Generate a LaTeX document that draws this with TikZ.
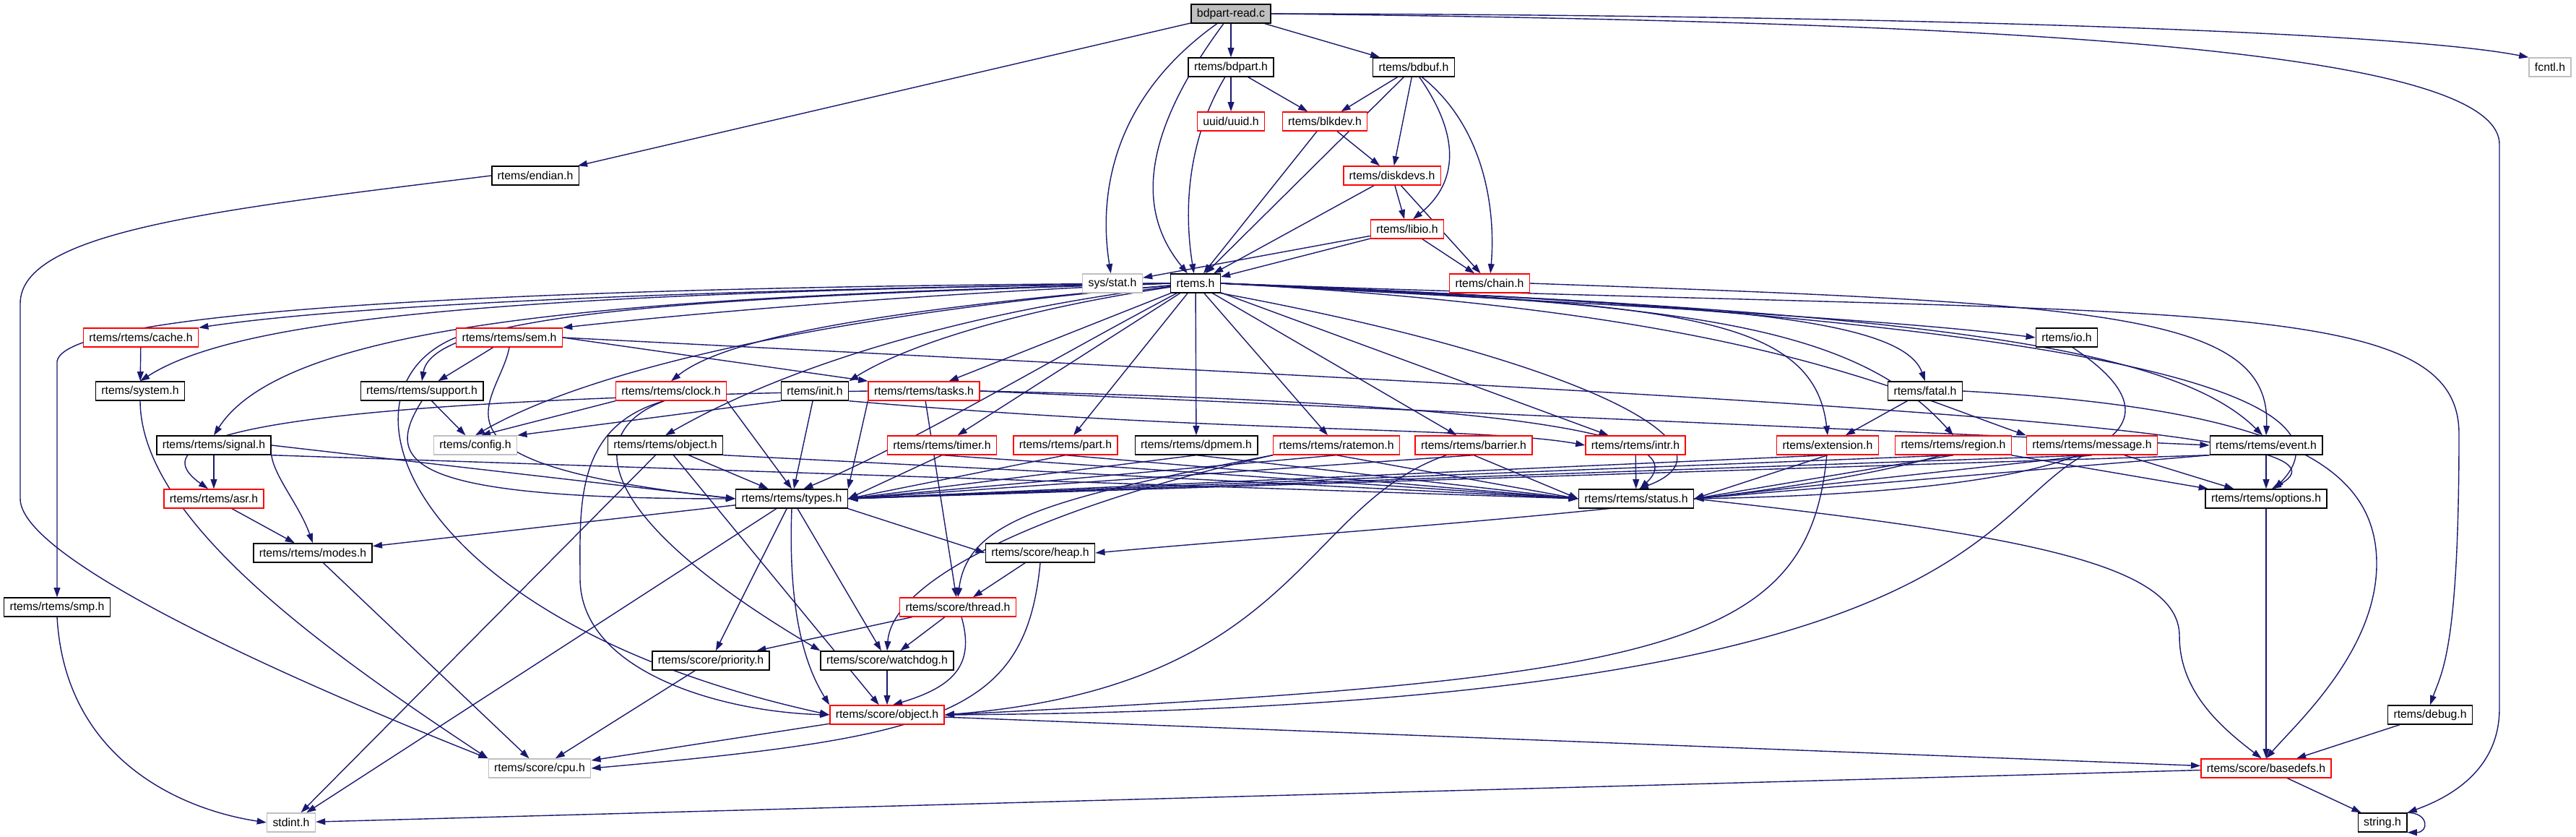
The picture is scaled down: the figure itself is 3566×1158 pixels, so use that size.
\documentclass[tikz,border=0pt]{standalone}
\usepackage{fontspec}
\setmainfont{Liberation Sans}
\usetikzlibrary{arrows.meta}
\definecolor{edgeblue}{HTML}{191970}
\definecolor{sysgray}{HTML}{BFBFBF}
\pgfdeclarelayer{background}
\pgfsetlayers{background,main}
\begin{document}
\begin{tikzpicture}
  [x=0.02cm,y=-0.02cm,every node/.style={rectangle,draw=black,line width=0.8pt,fill=white,
   font=\fontsize{9pt}{11pt}\selectfont,inner xsep=4.5pt,inner ysep=0pt,minimum height=0.52cm}]
  \tikzstyle{trunc} = [draw=red]
  \tikzstyle{sysfile} = [draw=sysgray]
  \tikzstyle{srcfile} = [fill=sysgray]
  \tikzstyle{dep} = [draw=edgeblue,line width=0.8pt,-{Triangle[length=7.5pt,width=5pt]}]
  \useasboundingbox (0,0) rectangle (3566,1158);

  % top levels
  \node[srcfile] (read) at (1704,19) {bdpart-read.c};
  \node (bdpart) at (1704,93) {rtems/bdpart.h};
  \node (bdbuf) at (1957,93) {rtems/bdbuf.h};
  \node[sysfile] (fcntl) at (3530,93) {fcntl.h};
  \node[trunc] (uuid) at (1704,168) {uuid/uuid.h};
  \node[trunc] (blkdev) at (1834,168) {rtems/blkdev.h};
  \node (endian) at (741,243) {rtems/endian.h};
  \node[trunc] (diskdevs) at (1927,243) {rtems/diskdevs.h};
  \node[trunc] (libio) at (1948,317) {rtems/libio.h};
  \node[sysfile] (stat) at (1540,392) {sys/stat.h};
  \node (rtemsh) at (1655,392) {rtems.h};
  \node[trunc] (chain) at (2062,392) {rtems/chain.h};

  % rtems.h includes
  \node[trunc] (cache) at (195,467) {rtems/rtems/cache.h};
  \node[trunc] (sem) at (705,467) {rtems/rtems/sem.h};
  \node (io) at (2861,467) {rtems/io.h};
  \node (system) at (194,541) {rtems/system.h};
  \node (support) at (584,541) {rtems/rtems/support.h};
  \node[trunc] (clock) at (929,541) {rtems/rtems/clock.h};
  \node (init) at (1128,541) {rtems/init.h};
  \node[trunc] (tasks) at (1279,541) {rtems/rtems/tasks.h};
  \node (fatal) at (2665,541) {rtems/fatal.h};
  \node (signal) at (296,616) {rtems/rtems/signal.h};
  \node[sysfile] (config) at (658,616) {rtems/config.h};
  \node (object) at (921,616) {rtems/rtems/object.h};
  \node[trunc] (timer) at (1304,616) {rtems/rtems/timer.h};
  \node[trunc] (part) at (1475,616) {rtems/rtems/part.h};
  \node (dpmem) at (1656,616) {rtems/rtems/dpmem.h};
  \node[trunc] (ratemon) at (1850,616) {rtems/rtems/ratemon.h};
  \node[trunc] (barrier) at (2040,616) {rtems/rtems/barrier.h};
  \node[trunc] (intr) at (2264,616) {rtems/rtems/intr.h};
  \node[trunc] (extension) at (2530,616) {rtems/extension.h};
  \node[trunc] (region) at (2704,616) {rtems/rtems/region.h};
  \node[trunc] (message) at (2896,616) {rtems/rtems/message.h};
  \node (event) at (3137,616) {rtems/rtems/event.h};
  \node[trunc] (asr) at (296,690) {rtems/rtems/asr.h};
  \node (types) at (1096,690) {rtems/rtems/types.h};
  \node (status) at (2265,690) {rtems/rtems/status.h};
  \node (options) at (3137,690) {rtems/rtems/options.h};

  % score level
  \node (modes) at (433,765) {rtems/rtems/modes.h};
  \node (heap) at (1440,765) {rtems/score/heap.h};
  \node (smp) at (79,840) {rtems/rtems/smp.h};
  \node[trunc] (thread) at (1326,840) {rtems/score/thread.h};
  \node (priority) at (984,914) {rtems/score/priority.h};
  \node (watchdog) at (1228,914) {rtems/score/watchdog.h};
  \node[trunc] (sobject) at (1228,989) {rtems/score/object.h};
  \node (debug) at (3364,989) {rtems/debug.h};
  \node[sysfile] (cpu) at (747,1063) {rtems/score/cpu.h};
  \node[trunc] (basedefs) at (3137,1063) {rtems/score/basedefs.h};
  \node[sysfile] (stdint) at (403,1138) {stdint.h};
  \node (string) at (3298,1138) {string.h};

  \begin{pgfonlayer}{background}
  % straight includes
  \foreach \from/\to in {read/endian,read/bdpart,read/bdbuf,bdpart/uuid,bdpart/blkdev,
      bdbuf/blkdev,bdbuf/diskdevs,bdbuf/rtemsh,blkdev/diskdevs,blkdev/rtemsh,
      diskdevs/rtemsh,diskdevs/libio,diskdevs/chain,libio/stat,libio/rtemsh,libio/chain,
      rtemsh/tasks,rtemsh/timer,rtemsh/part,rtemsh/dpmem,rtemsh/ratemon,rtemsh/barrier,rtemsh/intr,
      cache/system,sem/support,support/config,signal/asr,asr/modes,object/types,
      init/types,intr/status,fatal/extension,types/modes,types/priority,types/watchdog,
      types/stdint,heap/thread,thread/priority,thread/watchdog,priority/cpu,watchdog/sobject,
      sobject/cpu,sobject/basedefs,modes/cpu,debug/basedefs,options/basedefs,
      basedefs/stdint,basedefs/string,region/options,message/options,event/options,
      tasks/thread,object/stdint,object/sobject}
    \draw[dep] (\from) -- (\to);

  \foreach \from in {timer,part,dpmem,ratemon,barrier,extension,region,message}
    \draw[dep] (\from.south) -- (types.east);
  \foreach \from in {timer,part,dpmem,ratemon,barrier}
    \draw[dep] (\from.south) -- (status.west);
  \foreach \from in {extension,region,message}
    \draw[dep] (\from.south) -- (status.east);
  \draw[dep] (event.south west) -- (types.east);
  \draw[dep] (event.south west) -- (status.east);
  \draw[dep] (signal.east) -- (types.west);
  \draw[dep] (signal.south east) -- (status.west);
  \draw[dep] (object.south east) -- (status.west);
  \draw[dep] (clock.south east) -- (types.north);
  \draw[dep] (clock.south west) -- (config.60);
  \draw[dep] (init.south west) -- (config.north east);
  \draw[dep] (tasks.south west) -- (types.north east);
  \draw[dep] (types.south east) -- (heap.west);
  \draw[dep] (sem.east) -- (tasks.north west);
  \draw[dep] (tasks.east) -- (event.west);

  % bdpart-read.c
  \draw[dep] (read.east) .. controls (2500,20) and (3300,40) .. (fcntl.north west);
  \draw[dep] (read.east) .. controls (2700,30) and (3460,60) .. (3460,200)
    -- (3460,980) .. controls (3460,1060) and (3400,1100) .. (string.north east);
  \draw[dep] (read) .. controls (1520,150) and (1525,300) .. (stat);
  \draw[dep] (read) .. controls (1570,200) and (1580,300) .. (rtemsh);
  \draw[dep] (bdpart) .. controls (1640,200) and (1640,300) .. (rtemsh);
  \draw[dep] (bdbuf.300) .. controls (2030,200) and (2010,260) .. (libio.60);
  \draw[dep] (bdbuf.310) .. controls (2060,180) and (2070,300) .. (chain);
  \draw[dep] (endian.west) .. controls (300,290) and (28,320) .. (28,420)
    -- (28,690) .. controls (28,780) and (450,960) .. (cpu.north west);
  \draw[dep] (chain.east) .. controls (2900,420) and (3145,430) .. (event.north);

  % rtems.h fan out
  \draw[dep] (rtemsh.west) .. controls (1000,400) and (500,420) .. (cache.north east);
  \draw[dep] (rtemsh.west) .. controls (700,405) and (330,440) .. (system.north);
  \draw[dep] (rtemsh.west) .. controls (900,395) and (90,420) .. (79,500) -- (smp.north);
  \draw[dep] (rtemsh.west) .. controls (1200,410) and (900,440) .. (sem.north east);
  \draw[dep] (rtemsh.west) .. controls (1000,410) and (600,430) .. (support.north);
  \draw[dep] (rtemsh.west) .. controls (900,410) and (400,440) .. (signal.north);
  \draw[dep] (rtemsh) .. controls (1100,440) and (800,520) .. (config.north);
  \draw[dep] (rtemsh) .. controls (1200,430) and (1000,470) .. (clock.north);
  \draw[dep] (rtemsh) .. controls (1350,430) and (1100,500) .. (object.north);
  \draw[dep] (rtemsh) .. controls (1400,430) and (1250,480) .. (init.north east);
  \draw[dep] (rtemsh) .. controls (1450,500) and (1250,620) .. (types.40);
  \draw[dep] (rtemsh.south east) .. controls (2200,500) and (2420,620) .. (status.75);
  \draw[dep] (rtemsh.east) .. controls (2200,420) and (2600,440) .. (io.west);
  \draw[dep] (rtemsh.east) .. controls (2300,420) and (2630,430) .. (fatal.north);
  \draw[dep] (rtemsh.east) .. controls (2300,420) and (2510,430) .. (extension.north);
  \draw[dep] (rtemsh.east) .. controls (2300,420) and (2560,440) .. (region.north);
  \draw[dep] (rtemsh.east) .. controls (2400,430) and (2600,530) .. (message.north west);
  \draw[dep] (rtemsh.east) .. controls (2600,430) and (3000,470) .. (event.110);
  \draw[dep] (rtemsh.east) .. controls (2700,430) and (3300,520) .. (options.50);
  \draw[dep] (rtemsh.east) .. controls (3000,440) and (3404,400) .. (3404,600)
    .. controls (3404,900) and (3380,930) .. (debug.north);

  % curved includes below rtems.h
  \draw[dep] (system.south) .. controls (195,720) and (450,900) .. (cpu.north west);
  \draw[dep] (smp.south) .. controls (90,1050) and (250,1120) .. (stdint.west);
  \draw[dep] (sem.south) .. controls (690,560) and (560,640) .. (types.west);
  \draw[dep] (sem.west) .. controls (450,540) and (560,860) .. (sobject.west);
  \draw[dep] (sem.east) .. controls (2500,555) and (3300,590) .. (options.60);
  \draw[dep] (support.south) .. controls (530,640) and (560,690) .. (types.west);
  \draw[dep] (signal.south east) .. controls (380,660) and (415,700) .. (modes.north);
  \draw[dep] (clock.235) .. controls (800,600) and (830,720) .. (watchdog.north west);
  \draw[dep] (clock.235) .. controls (795,590) and (803,700) .. (803,800)
    .. controls (803,930) and (1000,985) .. (sobject.west);
  \draw[dep] (init.south east) .. controls (1700,600) and (2050,590) .. (intr.west);
  \draw[dep] (tasks.east) .. controls (2250,560) and (2330,620) .. (status.70);
  \draw[dep] (tasks.west) .. controls (400,555) and (180,600) .. (asr.120);
  \draw[dep] (ratemon.south west) .. controls (1450,690) and (1340,720) .. (thread.north);
  \draw[dep] (ratemon.south west) .. controls (1450,700) and (1235,800) .. (watchdog.north);
  \draw[dep] (barrier.200) .. controls (1800,700) and (1797,950) .. (sobject.east);
  \draw[dep] (extension.265) .. controls (2504,900) and (2300,940) .. (sobject.east);
  \draw[dep] (message.230) .. controls (2726,720) and (2726,980) .. (sobject.east);
  \draw[dep] (region.220) .. controls (2450,700) and (1900,730) .. (heap.east);
  \draw[dep] (io.300) .. controls (3050,600) and (2900,680) .. (status.east);
  \draw[dep] (fatal.east) .. controls (3150,565) and (3290,640) .. (3290,780)
    .. controls (3290,900) and (3180,1000) .. (basedefs.north);
  \draw[dep] (status.east) .. controls (2800,740) and (3017,780) .. (3017,880)
    .. controls (3017,960) and (3080,1010) .. (basedefs.115);
  \draw[dep] (types.south) .. controls (1090,860) and (1120,930) .. (sobject.north west);
  \draw[dep] (thread.290) .. controls (1350,920) and (1320,950) .. (sobject.60);
  \draw[dep] (heap.south) .. controls (1420,990) and (1300,1020) .. (cpu.east);
  \draw[dep] (string.north east) .. controls +(30,0) and +(30,0) .. (string.south east);
  \end{pgfonlayer}

\end{tikzpicture}
\end{document}
